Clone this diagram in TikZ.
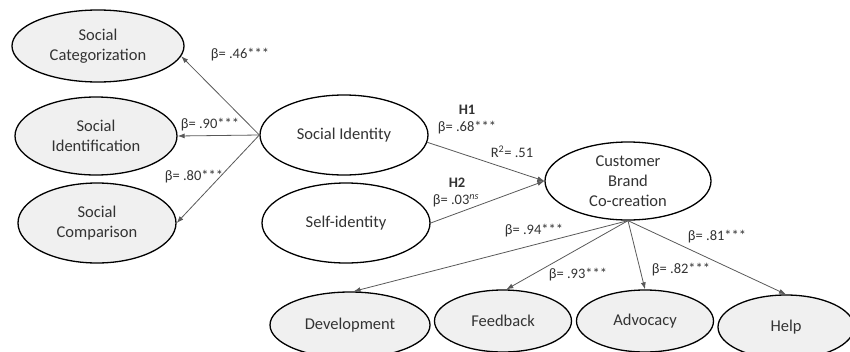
\documentclass[tikz,border=0pt]{standalone}
\usepackage{fontspec}
\setmainfont{Carlito}
\usetikzlibrary{shapes.geometric,arrows.meta}

\begin{document}
\begin{tikzpicture}[x=1pt, y=-1pt,
		c/.style = {ellipse, draw=black, line width=1.3pt, fill=black!6, align=center, inner sep=0pt, text=black!80, font=\fontsize{16.5}{20}\selectfont},
		v/.style = {c, fill=white},
		l/.style = {inner sep=0pt, text=black!80, font=\fontsize{14.5}{16}\selectfont},
		r/.style = {-{Latex[length=7pt,width=5pt]}, draw=black!65, line width=0.8pt}
		]
		\useasboundingbox (0,0) rectangle (850,351);
		
		%Nodes
		\node[c, minimum width=172, minimum height=72]	(cat)	at	(98, 46)	{Social\\Categorization};
		\node[c, minimum width=162, minimum height=78]	(idn)	at	(96, 136)	{Social\\Identification};
		\node[c, minimum width=158, minimum height=80]	(cmp)	at	(97, 223)	{Social\\Comparison};
		\node[v, minimum width=168, minimum height=80]	(si)	at	(344, 135)	{Social Identity};
		\node[v, minimum width=168, minimum height=80]	(self)	at	(346, 223)	{Self-identity};
		\node[v, minimum width=166, minimum height=78]	(cbc)	at	(628, 181)	{Customer\\Brand\\Co-creation};
		\node[c, minimum width=160, minimum height=66]	(dev)	at	(350, 325)	{Development};
		\node[c, minimum width=137, minimum height=62]	(fb)	at	(503, 321)	{Feedback};
		\node[c, minimum width=137, minimum height=62]	(adv)	at	(645, 321)	{Advocacy};
		\node[c, minimum width=136, minimum height=64]	(help)	at	(786, 327)	{Help};
		
		%Labels
		\node[l]	(b1)	at	(240, 55)	{β= .46***};
		\node[l]	(b2)	at	(210, 125)	{β= .90***};
		\node[l]	(b3)	at	(194, 177)	{β= .80***};
		\node[l]	(h1)	at	(467, 110)	{\textbf{H1}};
		\node[l]	(b4)	at	(467, 128)	{β= .68***};
		\node[l]	(r2)	at	(512, 152)	{R\textsuperscript{2}= .51};
		\node[l]	(h2)	at	(457, 183)	{\textbf{H2}};
		\node[l]	(b5)	at	(456, 201)	{β= .03\textsuperscript{\textit{ns}}};
		\node[l]	(b6)	at	(534, 231)	{β= .94***};
		\node[l]	(b7)	at	(578, 275)	{β= .93***};
		\node[l]	(b8)	at	(681, 270)	{β= .82***};
		\node[l]	(b9)	at	(717, 237)	{β= .81***};
		
		%Lines
		\draw[r]	(si.west)	to	(cat.-7);
		\draw[r]	(si.west)	to	(idn.east);
		\draw[r]	(si.west)	to	(cmp.east);
		\draw[r]	(si.-5)	to	(cbc.west);
		\draw[r]	(self.east)	to	(cbc.west);
		\draw[r]	(cbc.south)	to	(dev.84);
		\draw[r]	(cbc.south)	to	(fb.84);
		\draw[r]	(cbc.south)	to	(adv.north);
		\draw[r]	(cbc.south)	to	(help.north);
	\end{tikzpicture}
\end{document}
